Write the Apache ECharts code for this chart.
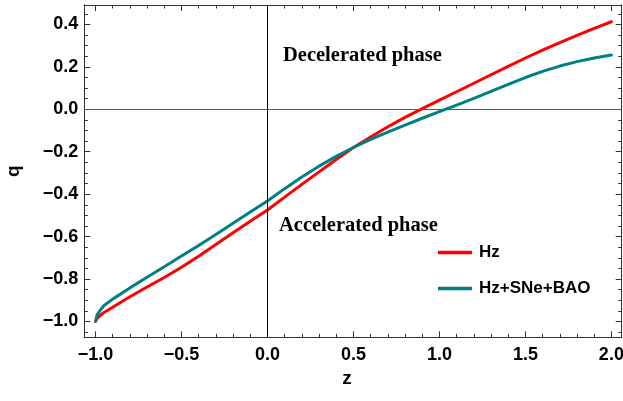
<!DOCTYPE html>
<html>
<head>
<meta charset="utf-8">
<script src="https://cdn.jsdelivr.net/npm/echarts@6/dist/echarts.min.js"></script>
<style>
html,body{margin:0;padding:0;background:#fff;}
#chart{width:623px;height:401px;}
</style>
</head>
<body>
<div id="chart"></div>
<script>
// ---- data ----
const zValues = [-1.0, -0.99, -0.97, -0.95, -0.9, -0.8, -0.7, -0.6, -0.5, -0.4, -0.3, -0.2, -0.1,
  0.0, 0.1, 0.2, 0.3, 0.4, 0.5, 0.6, 0.7, 0.8, 0.9, 1.0, 1.1, 1.2, 1.3, 1.4, 1.5, 1.6, 1.7, 1.8, 1.9, 2.0];
const qHz = [-1.0, -0.985, -0.970, -0.958, -0.933, -0.884, -0.838, -0.793, -0.745, -0.693, -0.637, -0.582, -0.528,
  -0.475, -0.414, -0.354, -0.295, -0.237, -0.180, -0.130, -0.082, -0.038, 0.003, 0.043, 0.083, 0.123, 0.163, 0.203, 0.242, 0.279, 0.315, 0.349, 0.382, 0.413];
const qHzSNeBAO = [-1.0, -0.968, -0.945, -0.925, -0.895, -0.842, -0.792, -0.742, -0.692, -0.642, -0.590, -0.537, -0.484,
  -0.432, -0.374, -0.319, -0.268, -0.222, -0.180, -0.142, -0.107, -0.074, -0.042, -0.011, 0.020, 0.052, 0.085, 0.118, 0.150, 0.179, 0.204, 0.225, 0.242, 0.256];
const seriesNames = ['Hz', 'Hz+SNe+BAO'];
const xMajorTicks = [-1.0, -0.5, 0.0, 0.5, 1.0, 1.5, 2.0];
const xMinorTicks = [-0.9, -0.8, -0.7, -0.6, -0.4, -0.3, -0.2, -0.1, 0.1, 0.2, 0.3, 0.4, 0.6, 0.7, 0.8, 0.9, 1.1, 1.2, 1.3, 1.4, 1.6, 1.7, 1.8, 1.9];
const yMajorTicks = [-1.0, -0.8, -0.6, -0.4, -0.2, 0.0, 0.2, 0.4];
const yMinorTicks = [-1.05, -0.95, -0.9, -0.85, -0.75, -0.7, -0.65, -0.55, -0.5, -0.45, -0.35, -0.3, -0.25, -0.15, -0.1, -0.05, 0.05, 0.1, 0.15, 0.25, 0.3, 0.35, 0.45];
const annotations = ['Decelerated phase', 'Accelerated phase'];

// ---- chart ----
const X_MIN = -1.065, X_MAX = 2.06, Y_MIN = -1.075, Y_MAX = 0.492;
const frameColor = '#333333';
const fmt = v => v.toFixed(1).replace('-', '\u2212');
const labelFont = {fontFamily: 'Liberation Sans', fontWeight: 'bold', fontSize: 18, color: '#000'};

// tick-only axis (no labels)
function tickAxisX(pos, vals, len) {
  return {
    gridIndex: 0, type: 'value', position: pos, min: X_MIN, max: X_MAX,
    axisLine: {show: true, onZero: false, lineStyle: {color: frameColor, width: 1}},
    axisTick: {show: true, inside: true, length: len, customValues: vals, lineStyle: {color: frameColor, width: 1}},
    axisLabel: {show: false}, splitLine: {show: false}
  };
}
function tickAxisY(pos, vals, len) {
  return {
    gridIndex: 0, type: 'value', position: pos, min: Y_MIN, max: Y_MAX,
    axisLine: {show: true, onZero: false, lineStyle: {color: frameColor, width: 1}},
    axisTick: {show: true, inside: true, length: len, customValues: vals, lineStyle: {color: frameColor, width: 1}},
    axisLabel: {show: false}, splitLine: {show: false}
  };
}

const xAxes = [
  {
    gridIndex: 0, type: 'value', position: 'bottom', min: X_MIN, max: X_MAX,
    axisLine: {show: true, onZero: false, lineStyle: {color: frameColor, width: 1}},
    axisTick: {show: true, inside: true, length: 6, customValues: xMajorTicks, lineStyle: {color: frameColor, width: 1}},
    axisLabel: Object.assign({show: true, margin: 9, customValues: xMajorTicks, formatter: fmt}, labelFont),
    splitLine: {show: false},
    name: 'z', nameLocation: 'middle', nameGap: 26,
    nameTextStyle: {fontFamily: 'Liberation Sans', fontWeight: 'bold', fontSize: 19, color: '#000', padding: [0, 12, 0, 0]}
  },
  tickAxisX('bottom', xMinorTicks, 3.5),
  tickAxisX('top', xMajorTicks, 6),
  tickAxisX('top', xMinorTicks, 3.5)
];
const yAxes = [
  {
    gridIndex: 0, type: 'value', position: 'left', min: Y_MIN, max: Y_MAX,
    axisLine: {show: true, onZero: false, lineStyle: {color: frameColor, width: 1}},
    axisTick: {show: true, inside: true, length: 6, customValues: yMajorTicks, lineStyle: {color: frameColor, width: 1}},
    axisLabel: Object.assign({show: true, margin: 6, customValues: yMajorTicks, formatter: fmt}, labelFont),
    splitLine: {show: false},
    name: 'q', nameLocation: 'middle', nameGap: 61, nameRotate: 90,
    nameTextStyle: {fontFamily: 'Liberation Sans', fontWeight: 'bold', fontSize: 19, color: '#000'}
  },
  tickAxisY('left', yMinorTicks, 3.5),
  tickAxisY('right', yMajorTicks, 6),
  tickAxisY('right', yMinorTicks, 3.5)
];

const toPairs = ys => zValues.map((z, i) => [z, ys[i]]);
const colors = ['#ff0000', '#008080'];

const chart = echarts.init(document.getElementById('chart'), null, {renderer: 'canvas'});
chart.setOption({
  animation: false,
  backgroundColor: '#ffffff',
  grid: {left: 84.3, right: 1.3, top: 5, bottom: 63.7, containLabel: false, outerBoundsMode: 'none'},
  xAxis: xAxes,
  yAxis: yAxes,
  legend: {
    show: true, orient: 'vertical', left: 433, top: 239,
    itemWidth: 34, itemHeight: 3.5, itemGap: 19, icon: 'rect',
    textStyle: {fontFamily: 'Liberation Sans', fontWeight: 'bold', fontSize: 17, color: '#000', padding: [0, 0, 0, 2]},
    data: seriesNames
  },
  series: [
    {
      name: seriesNames[0], type: 'line', data: toPairs(qHz), xAxisIndex: 0, yAxisIndex: 0,
      showSymbol: false, smooth: false, color: colors[0],
      lineStyle: {color: colors[0], width: 3, join: 'round', cap: 'round'}, z: 3,
      markLine: {
        silent: true, symbol: 'none', label: {show: false},
        data: [
          {yAxis: 0, lineStyle: {color: '#555555', width: 1, type: 'solid'}},
          {xAxis: 0, lineStyle: {color: '#000000', width: 1, type: 'solid'}}
        ]
      }
    },
    {
      name: seriesNames[1], type: 'line', data: toPairs(qHzSNeBAO), xAxisIndex: 0, yAxisIndex: 0,
      showSymbol: false, smooth: false, color: colors[1],
      lineStyle: {color: colors[1], width: 3, join: 'round', cap: 'round'}, z: 4
    }
  ],
  graphic: [
    {type: 'text', left: 283, top: 45, silent: true,
      style: {text: annotations[0], font: 'bold 20.5px "Liberation Serif"', fill: '#000'}},
    {type: 'text', left: 279, top: 215, silent: true,
      style: {text: annotations[1], font: 'bold 20.5px "Liberation Serif"', fill: '#000'}}
  ]
});
</script>
</body>
</html>
